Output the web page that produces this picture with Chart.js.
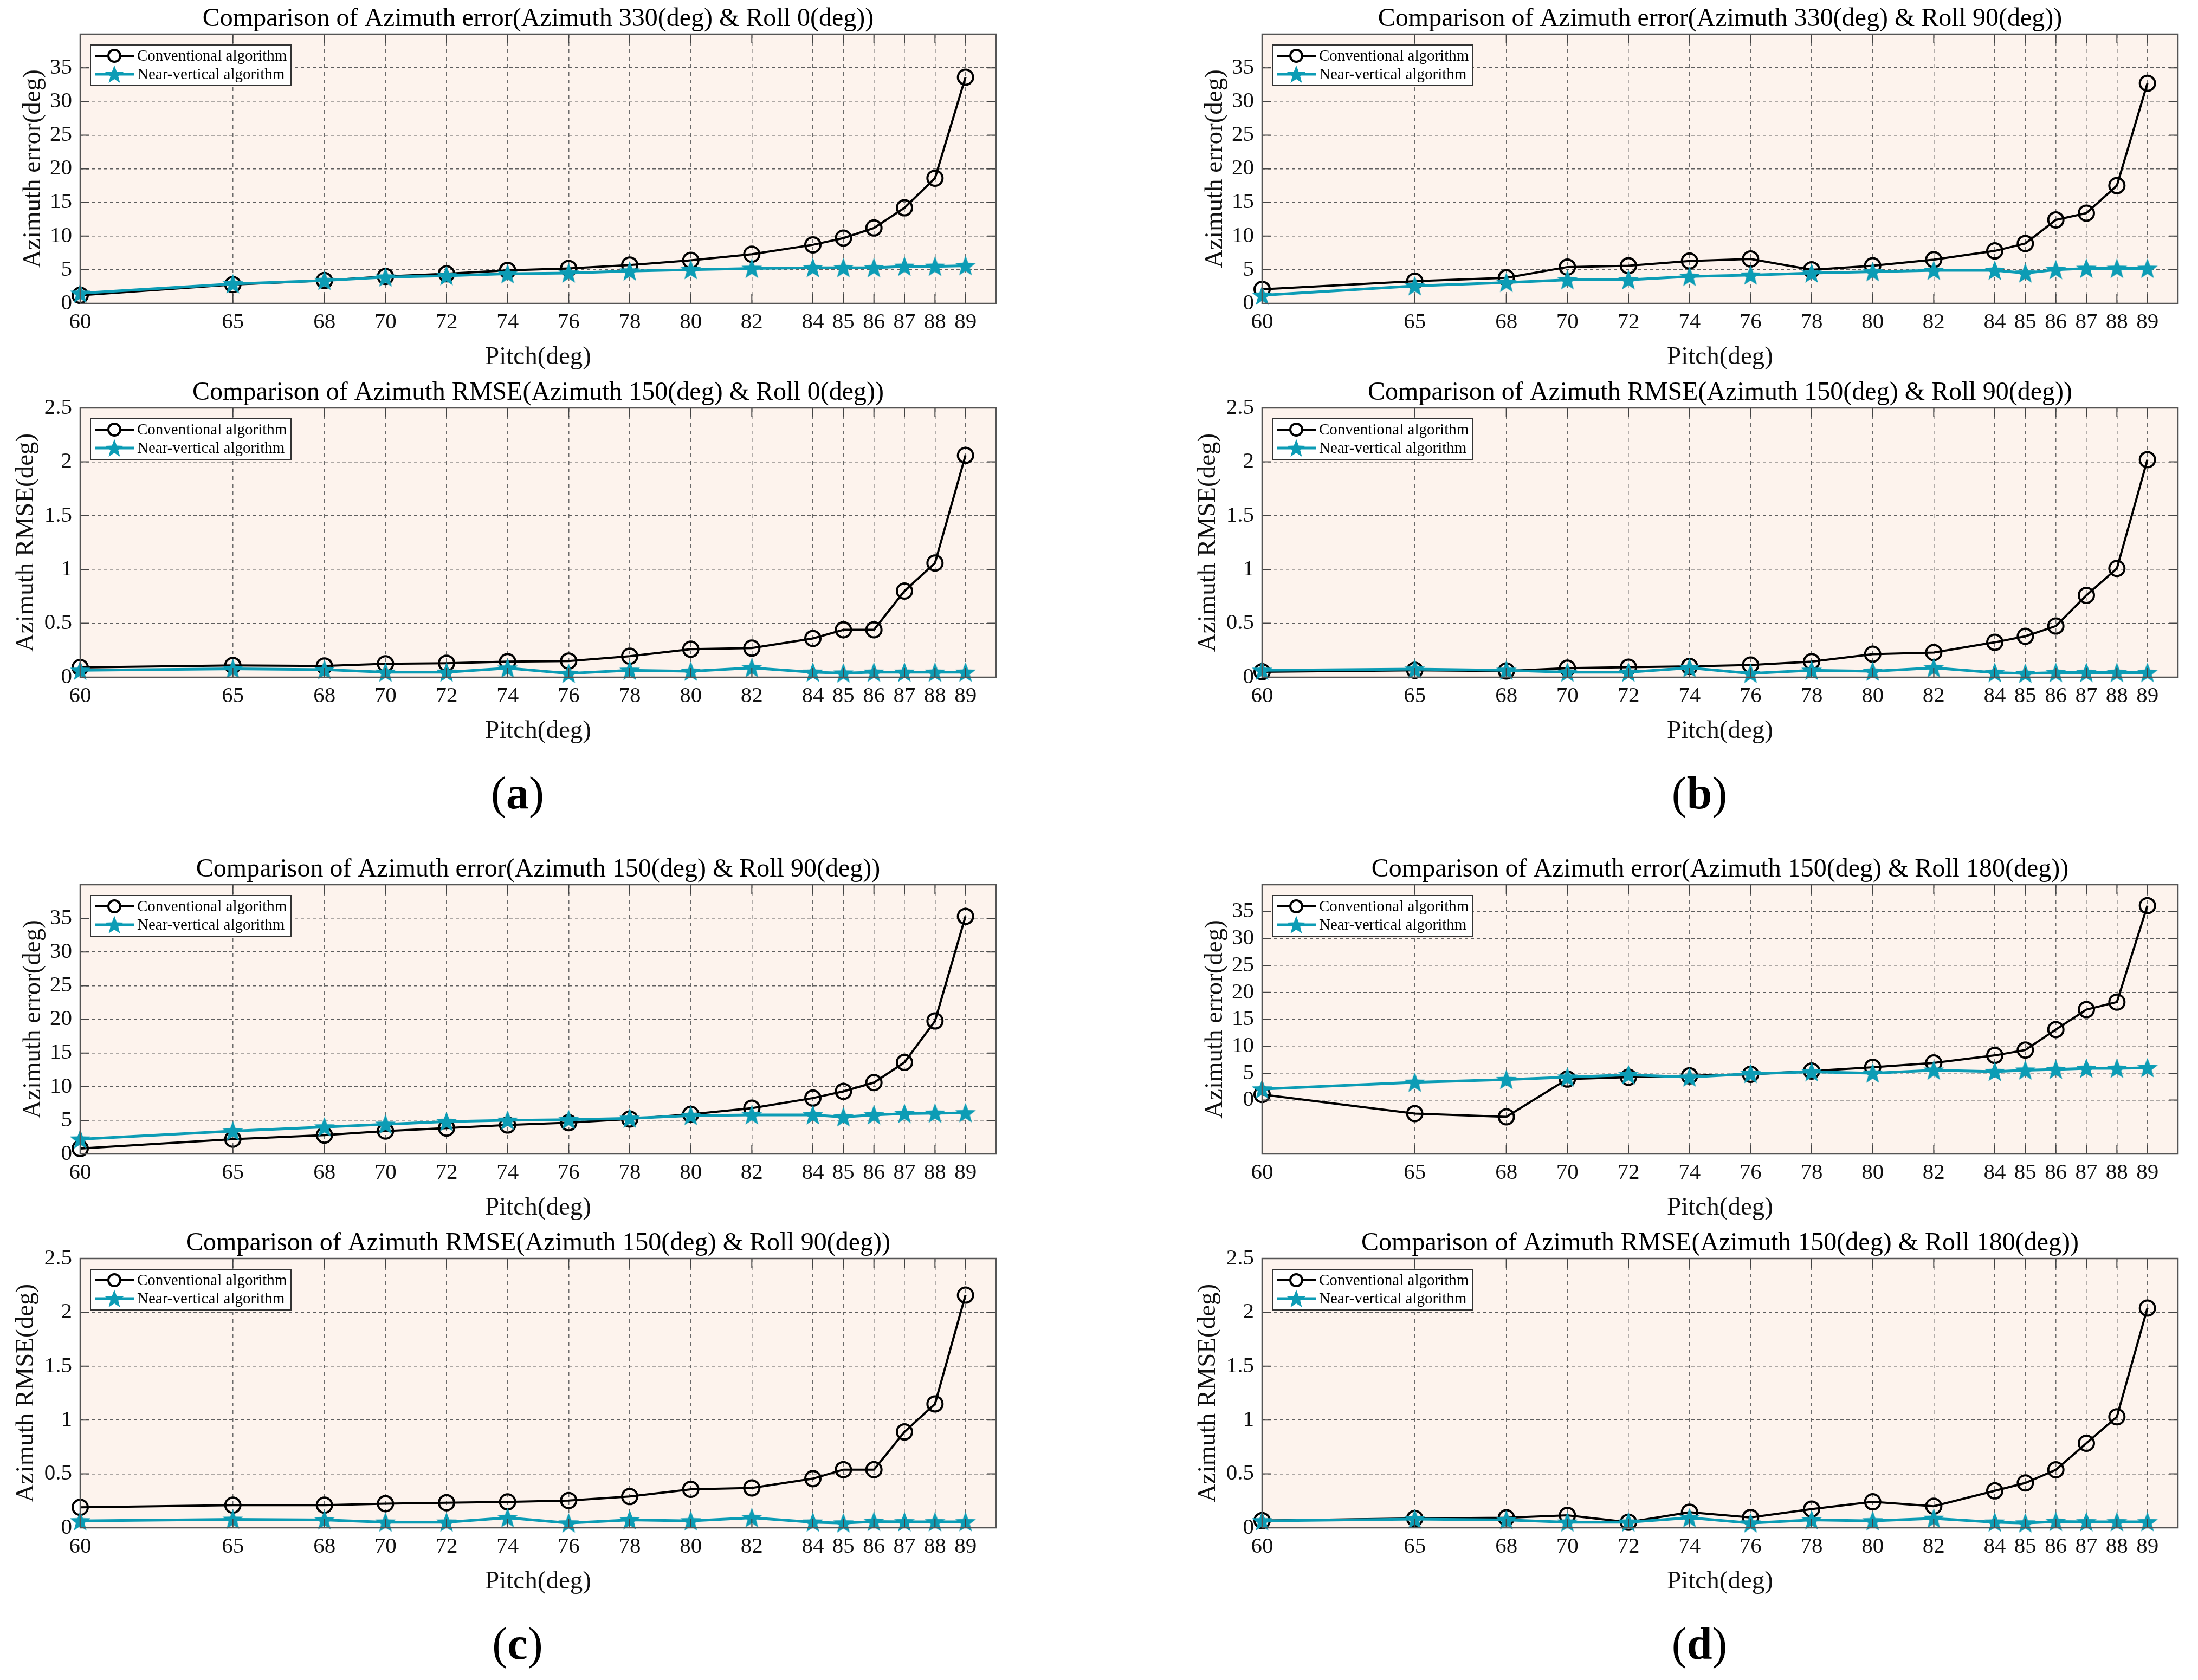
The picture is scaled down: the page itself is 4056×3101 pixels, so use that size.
<!DOCTYPE html>
<html>
<head>
<meta charset="utf-8">
<script src="https://cdn.jsdelivr.net/npm/chart.js@4.4.1/dist/chart.umd.min.js"></script>
<style>
html, body { margin: 0; padding: 0; background: #fff; overflow: hidden; }
body { width: 4056px; height: 3101px; position: relative; }
canvas { position: absolute; }
.tag { position: absolute; width: 200px; text-align: center; font-family: 'Liberation Serif', serif; font-size: 84px; line-height: 84px; color: #000; }
</style>
</head>
<body>
<canvas id="aTop" width="1870" height="690" style="left:0px;top:0px"></canvas>
<canvas id="aBot" width="1870" height="690" style="left:0px;top:690px"></canvas>
<canvas id="bTop" width="1870" height="690" style="left:2181px;top:0px"></canvas>
<canvas id="bBot" width="1870" height="690" style="left:2181px;top:690px"></canvas>
<canvas id="cTop" width="1870" height="690" style="left:0px;top:1570px"></canvas>
<canvas id="cBot" width="1870" height="690" style="left:0px;top:2260px"></canvas>
<canvas id="dTop" width="1870" height="690" style="left:2181px;top:1570px"></canvas>
<canvas id="dBot" width="1870" height="690" style="left:2181px;top:2260px"></canvas>
<div class="tag" style="left:855px;top:1422px">(<b>a</b>)</div>
<div class="tag" style="left:3036px;top:1422px">(<b>b</b>)</div>
<div class="tag" style="left:855px;top:2992px">(<b>c</b>)</div>
<div class="tag" style="left:3036px;top:2992px">(<b>d</b>)</div>
<script>
// pitch angles (x axis) and tick labels
const pitch = [60, 65, 68, 70, 72, 74, 76, 78, 80, 82, 84, 85, 86, 87, 88, 89];
const errTicks = [0, 5, 10, 15, 20, 25, 30, 35];
const rmseTicks = [0, 0.5, 1, 1.5, 2, 2.5];

const seriesNames = ['Conventional algorithm', 'Near-vertical algorithm'];

// (a) azimuth 330 / roll 0 error, azimuth 150 / roll 0 rmse
const errA_conv = [1.2, 2.8, 3.4, 4.0, 4.4, 4.9, 5.2, 5.7, 6.4, 7.3, 8.7, 9.7, 11.2, 14.2, 18.6, 33.6];
const errA_near = [1.5, 2.9, 3.4, 3.9, 4.1, 4.4, 4.5, 4.8, 5.0, 5.2, 5.3, 5.3, 5.3, 5.5, 5.5, 5.6];
const rmseA_conv = [0.09, 0.11, 0.105, 0.125, 0.13, 0.145, 0.15, 0.195, 0.26, 0.27, 0.36, 0.44, 0.44, 0.80, 1.06, 2.06];
const rmseA_near = [0.064, 0.078, 0.07, 0.046, 0.046, 0.084, 0.035, 0.064, 0.055, 0.087, 0.046, 0.038, 0.046, 0.046, 0.046, 0.046];

// (b)
const errB_conv = [2.1, 3.3, 3.8, 5.4, 5.6, 6.3, 6.6, 5.0, 5.6, 6.5, 7.8, 8.9, 12.4, 13.4, 17.5, 32.7];
const errB_near = [1.2, 2.6, 3.1, 3.5, 3.5, 4.0, 4.2, 4.5, 4.7, 4.9, 4.9, 4.5, 5.0, 5.2, 5.2, 5.2];
const rmseB_conv = [0.05, 0.064, 0.058, 0.084, 0.093, 0.10, 0.113, 0.145, 0.214, 0.229, 0.324, 0.38, 0.475, 0.76, 1.01, 2.02];
const rmseB_near = [0.064, 0.075, 0.064, 0.046, 0.046, 0.087, 0.035, 0.064, 0.055, 0.087, 0.043, 0.035, 0.043, 0.043, 0.043, 0.043];

// (c)
const errC_conv = [0.8, 2.2, 2.8, 3.4, 3.85, 4.3, 4.65, 5.2, 5.9, 6.8, 8.3, 9.3, 10.6, 13.6, 19.75, 35.3];
const errC_near = [2.2, 3.4, 4.0, 4.4, 4.8, 5.0, 5.1, 5.3, 5.7, 5.8, 5.8, 5.5, 5.8, 6.0, 6.05, 6.1];
const rmseC_conv = [0.19, 0.21, 0.21, 0.224, 0.233, 0.24, 0.253, 0.29, 0.357, 0.37, 0.456, 0.54, 0.54, 0.89, 1.15, 2.16];
const rmseC_near = [0.064, 0.078, 0.073, 0.052, 0.052, 0.093, 0.044, 0.073, 0.064, 0.093, 0.052, 0.044, 0.058, 0.055, 0.055, 0.055];

// (d)
const errD_conv = [1.05, -2.5, -3.1, 3.9, 4.25, 4.5, 4.8, 5.4, 6.1, 6.9, 8.3, 9.3, 13.1, 16.8, 18.2, 36.1];
const errD_near = [2.05, 3.3, 3.8, 4.25, 4.7, 4.25, 4.9, 5.25, 5.0, 5.55, 5.3, 5.55, 5.7, 5.9, 5.9, 6.0];
const rmseD_conv = [0.067, 0.087, 0.093, 0.116, 0.052, 0.145, 0.096, 0.174, 0.241, 0.2, 0.343, 0.416, 0.538, 0.785, 1.03, 2.04];
const rmseD_near = [0.064, 0.081, 0.073, 0.052, 0.052, 0.093, 0.044, 0.073, 0.064, 0.087, 0.052, 0.044, 0.058, 0.055, 0.055, 0.055];

const CYAN = '#0c9cb5';
const SERIF = "'Liberation Serif', 'Times New Roman', serif";

// filled pentagram marker, like matlab 'p'
function makeStar(R) {
    const s = Math.ceil(R * 2 + 4);
    const c = document.createElement('canvas');
    c.width = s; c.height = s;
    const g = c.getContext('2d');
    const r = R * 0.42;
    g.beginPath();
    for (let i = 0; i < 10; i++) {
        const a = -Math.PI / 2 + i * Math.PI / 5;
        const rr = i % 2 === 0 ? R : r;
        g.lineTo(s / 2 + rr * Math.cos(a), s / 2 + 1.5 + rr * Math.sin(a));
    }
    g.closePath();
    g.fillStyle = CYAN;
    g.fill();
    return c;
}
const starBig = makeStar(20);
const starSmall = makeStar(18);

function drawLegend(ctx, ca) {
    const x0 = ca.left + 19, y0 = ca.top + 20;
    ctx.save();
    ctx.fillStyle = '#fff';
    ctx.fillRect(x0, y0, 370, 75);
    ctx.strokeStyle = '#333';
    ctx.lineWidth = 2;
    ctx.strokeRect(x0, y0, 370, 75);

    // row 1 - conventional
    let y = y0 + 20;
    ctx.strokeStyle = '#000';
    ctx.lineWidth = 4;
    ctx.beginPath(); ctx.moveTo(x0 + 8, y); ctx.lineTo(x0 + 80, y); ctx.stroke();
    ctx.fillStyle = '#fff';
    ctx.beginPath(); ctx.arc(x0 + 44, y, 11, 0, Math.PI * 2); ctx.fill(); ctx.stroke();

    // row 2 - near vertical
    y = y0 + 54;
    ctx.strokeStyle = CYAN;
    ctx.lineWidth = 5;
    ctx.beginPath(); ctx.moveTo(x0 + 8, y); ctx.lineTo(x0 + 80, y); ctx.stroke();
    ctx.drawImage(starSmall, x0 + 44 - starSmall.width / 2, y - starSmall.height / 2);

    ctx.fillStyle = '#000';
    ctx.font = '29px ' + SERIF;
    ctx.textBaseline = 'middle';
    ctx.textAlign = 'left';
    ctx.fillText(seriesNames[0], x0 + 86, y0 + 21);
    ctx.fillText(seriesNames[1], x0 + 86, y0 + 55);
    ctx.restore();
}

const matlabAxes = {
    id: 'matlabAxes',
    beforeDraw(chart) {
        const {ctx, chartArea: ca} = chart;
        ctx.save();
        ctx.fillStyle = '#fdf3ed';
        ctx.fillRect(ca.left, ca.top, ca.right - ca.left, ca.bottom - ca.top);
        ctx.restore();
    },
    afterDatasetsDraw(chart, args, opts) {
        const {ctx, chartArea: ca, scales} = chart;
        ctx.save();
        // inward tick marks
        ctx.strokeStyle = '#444';
        ctx.lineWidth = 2;
        ctx.beginPath();
        scales.x.ticks.forEach(t => {
            const px = scales.x.getPixelForValue(t.value);
            ctx.moveTo(px, ca.bottom); ctx.lineTo(px, ca.bottom - 17);
            ctx.moveTo(px, ca.top); ctx.lineTo(px, ca.top + 17);
        });
        scales.y.ticks.forEach(t => {
            const py = scales.y.getPixelForValue(t.value);
            ctx.moveTo(ca.left, py); ctx.lineTo(ca.left + 17, py);
            ctx.moveTo(ca.right, py); ctx.lineTo(ca.right - 17, py);
        });
        ctx.stroke();
        // box
        ctx.strokeStyle = '#555';
        ctx.lineWidth = 2.5;
        ctx.strokeRect(ca.left, ca.top, ca.right - ca.left, ca.bottom - ca.top);
        ctx.restore();

        drawLegend(ctx, ca);

        // title centred over the plot box
        ctx.save();
        ctx.fillStyle = '#000';
        ctx.font = '48px ' + SERIF;
        ctx.textAlign = 'center';
        ctx.textBaseline = 'middle';
        ctx.fillText(opts.text, (ca.left + ca.right) / 2, ca.top - 28);
        ctx.restore();
    }
};

function makePanel(canvasId, title, conv, near, kind, yMin) {
    const isErr = kind === 'err';
    const yTicks = isErr ? errTicks : rmseTicks;
    const yLabel = isErr ? 'Azimuth error(deg)' : 'Azimuth RMSE(deg)';
    return new Chart(document.getElementById(canvasId), {
        type: 'line',
        data: {
            datasets: [
                {
                    label: seriesNames[0],
                    data: pitch.map((p, i) => ({x: p, y: conv[i]})),
                    borderColor: '#000',
                    borderWidth: 4,
                    pointStyle: 'circle',
                    pointRadius: 14,
                    pointBorderWidth: 4,
                    pointBorderColor: '#000',
                    pointBackgroundColor: 'rgba(0,0,0,0)',
                    tension: 0,
                    clip: false,
                    order: 2
                },
                {
                    label: seriesNames[1],
                    data: pitch.map((p, i) => ({x: p, y: near[i]})),
                    borderColor: CYAN,
                    borderWidth: 5,
                    pointStyle: starBig,
                    tension: 0,
                    clip: false,
                    order: 1
                }
            ]
        },
        options: {
            responsive: false,
            animation: false,
            devicePixelRatio: 1,
            layout: { padding: { top: 63, right: 32, bottom: 0, left: 0 }, autoPadding: false },
            plugins: {
                legend: { display: false },
                title: { display: false },
                tooltip: { enabled: false },
                matlabAxes: { text: title }
            },
            scales: {
                x: {
                    type: 'linear',
                    min: 60,
                    max: 90,
                    afterBuildTicks: (scale) => { scale.ticks = pitch.map(v => ({value: v})); },
                    afterFit: (scale) => { scale.height = 130; },
                    grid: { color: '#6a6a6a', lineWidth: 1.5, drawTicks: false },
                    border: { display: false, dash: [7, 7] },
                    ticks: {
                        autoSkip: false,
                        maxRotation: 0,
                        padding: 11,
                        color: '#111',
                        font: { family: SERIF, size: 41 },
                        callback: (v) => String(v)
                    },
                    title: {
                        display: true,
                        text: 'Pitch(deg)',
                        color: '#111',
                        font: { family: SERIF, size: 47, lineHeight: 1.2 },
                        padding: { top: 0, bottom: 2 }
                    }
                },
                y: {
                    type: 'linear',
                    min: isErr ? yMin : 0,
                    max: isErr ? 40 : 2.5,
                    afterBuildTicks: (scale) => { scale.ticks = yTicks.map(v => ({value: v})); },
                    afterFit: (scale) => { scale.width = 148; },
                    grid: { color: '#5e5e5e', lineWidth: 1.6, drawTicks: false },
                    border: { display: false, dash: [6, 5] },
                    ticks: {
                        padding: 15,
                        color: '#111',
                        font: { family: SERIF, size: 41 },
                        callback: (v) => String(v)
                    },
                    title: {
                        display: true,
                        text: yLabel,
                        color: '#111',
                        font: { family: SERIF, size: 47, lineHeight: 1.0 },
                        padding: { top: isErr ? 38 : 25, bottom: 0 }
                    }
                }
            }
        },
        plugins: [matlabAxes]
    });
}

makePanel('aTop', 'Comparison of Azimuth error(Azimuth 330(deg) & Roll 0(deg))', errA_conv, errA_near, 'err', 0);
makePanel('aBot', 'Comparison of Azimuth RMSE(Azimuth 150(deg) & Roll 0(deg))', rmseA_conv, rmseA_near, 'rmse');
makePanel('bTop', 'Comparison of Azimuth error(Azimuth 330(deg) & Roll 90(deg))', errB_conv, errB_near, 'err', 0);
makePanel('bBot', 'Comparison of Azimuth RMSE(Azimuth 150(deg) & Roll 90(deg))', rmseB_conv, rmseB_near, 'rmse');
makePanel('cTop', 'Comparison of Azimuth error(Azimuth 150(deg) & Roll 90(deg))', errC_conv, errC_near, 'err', 0);
makePanel('cBot', 'Comparison of Azimuth RMSE(Azimuth 150(deg) & Roll 90(deg))', rmseC_conv, rmseC_near, 'rmse');
makePanel('dTop', 'Comparison of Azimuth error(Azimuth 150(deg) & Roll 180(deg))', errD_conv, errD_near, 'err', -10);
makePanel('dBot', 'Comparison of Azimuth RMSE(Azimuth 150(deg) & Roll 180(deg))', rmseD_conv, rmseD_near, 'rmse');
</script>
</body>
</html>
